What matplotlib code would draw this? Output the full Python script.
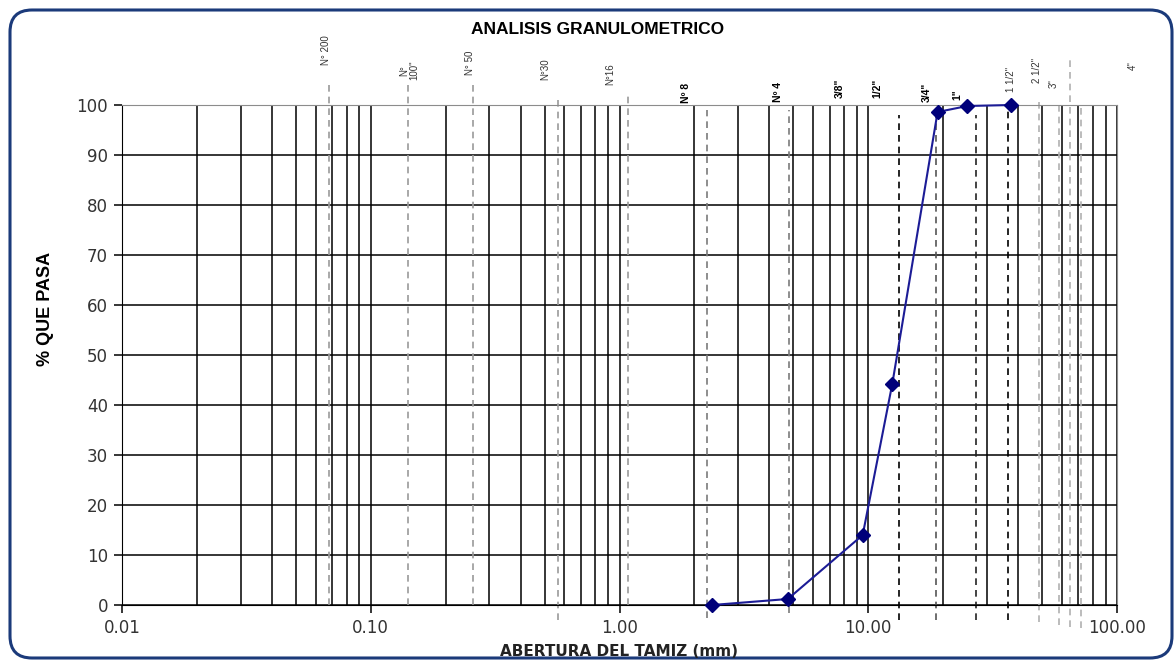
import numpy as np
import matplotlib
matplotlib.use('Agg')
import matplotlib.pyplot as plt
from matplotlib.patches import FancyBboxPatch
from matplotlib.ticker import FixedLocator, NullLocator, FuncFormatter

# GRADATION DATA
abertura_mm = [2.36, 4.75, 9.5, 12.5, 19.0, 25.0, 37.5]
pct_pasa = [0.0, 1.2, 14.0, 44.3, 98.6, 99.8, 100.0]

# SIEVE REFERENCE LINES
tamiz_mm = [0.068, 0.141, 0.257, 0.566, 1.08, 2.24, 4.79, 13.3, 18.7, 27.1, 36.4,
            48.6, 58.5, 64.8, 71.7]
tamiz_lbl = ['N° 200', 'N°\n100"', 'N° 50', 'N°30', 'N°16', 'Nº 8', 'Nº 4', '1/2"',
             '3/4"', '1"', '1 1/2"', '2 1/2"', '3"', '', '']
# sieves named without their own line
extra_mm = [9.5, 100.0]
extra_lbl = ['3/8"', '4"']

# line extents / colours / label placement
line_top = [104.6, 104.6, 104.6, 102, 102, 99, 99, 98, 99, 98, 99, 101.4, 100.6, 109, 100.4]
line_bot = [0, 0, 0, -3, 0, -2.6, -1.6, -3, -3, -3, -3, -3.4, -4, -4.4, -4.6]
line_col = ['#9a9a9a'] * 5 + ['#7a7a7a'] * 2 + ['#000000', '#555555', '#222222', '#000000'] + ['#b0b0b0'] * 4
lbl_dx = [-3, 1, -3, -13, -18, -21, -11, -22, -9, -19, 3, -2, -5, 0, 0]
lbl_y = [108, 105, 106, 105, 104, 100.4, 100.6, 101.4, 100.6, 101, 102.6, 104.4, 103.4, 0, 0]
lbl_bold = [False] * 5 + [True] * 5 + [False] * 5
extra_dx = [-23, 16]
extra_y = [101.4, 107]
extra_bold = [True, False]

sans = ['Liberation Sans', 'DejaVu Sans']

fig = plt.figure(figsize=(11.75, 6.61), dpi=100)
ax = fig.add_axes([122 / 1175, 1 - 605 / 661, 995 / 1175, 500 / 661])

# rounded frame around the whole chart
frame = FancyBboxPatch((0.10, 0.03), 11.62, 6.48, boxstyle='round,pad=0,rounding_size=0.22',
                       transform=fig.dpi_scale_trans, facecolor='none',
                       edgecolor='#1b3a7a', linewidth=2.2, zorder=0)
fig.patches.append(frame)

ax.set_xscale('log')
ax.set_xlim(0.01, 100)
ax.set_ylim(0, 100)

# log grid: every 1..9 of each decade
grid_x = [m * 10.0 ** e for e in range(-2, 2) for m in range(1, 10)] + [100]
for gx in grid_x:
    ax.axvline(gx, color='black', lw=1.1, zorder=1)
for gy in range(0, 100, 10):
    ax.axhline(gy, color='black', lw=1.1, zorder=1)
ax.axhline(100, color='#8c8c8c', lw=1.1, zorder=1)

# sieve dashed lines
for s, top, bot, c in zip(tamiz_mm, line_top, line_bot, line_col):
    ax.plot([s, s], [bot, top], color=c, lw=1.2, ls=(0, (4, 3)), clip_on=False, zorder=2)

# sieve labels
def sieve_label(txt, x, y, dx, bold):
    if not txt:
        return
    kw = dict(boxstyle='square,pad=0.15', fc='white', ec='none') if bold else None
    ax.annotate(txt, xy=(x, y), xytext=(dx, 0), textcoords='offset pixels',
                rotation=90, ha='center', va='bottom', family=sans,
                fontsize=7.5 if bold else 7, fontweight='bold' if bold else 'normal',
                color='black' if bold else '#333333', linespacing=1.0,
                annotation_clip=False, bbox=kw, zorder=3)

for t, s, y, dx, b in zip(tamiz_lbl, tamiz_mm, lbl_y, lbl_dx, lbl_bold):
    sieve_label(t, s, y, dx, b)
for t, s, y, dx, b in zip(extra_lbl, extra_mm, extra_y, extra_dx, extra_bold):
    sieve_label(t, s, y, dx, b)

# gradation curve
ax.plot(abertura_mm, pct_pasa, color='#1c1c96', lw=1.5, marker='D', markersize=7,
        markerfacecolor='#00007a', markeredgecolor='#00007a', clip_on=False, zorder=5)

# axes styling
for side in ['top', 'right']:
    ax.spines[side].set_color('#8c8c8c')
ax.spines['left'].set_color('black')
ax.spines['bottom'].set_color('black')
ax.xaxis.set_major_locator(FixedLocator([0.01, 0.1, 1, 10, 100]))
ax.xaxis.set_minor_locator(NullLocator())
ax.xaxis.set_major_formatter(FuncFormatter(lambda v, p: f'{v:.2f}'))
ax.set_yticks(range(0, 101, 10))
ax.tick_params(axis='both', direction='out', length=6, width=1.1, labelsize=12,
               labelcolor='#333333', pad=4)

fig.text(598 / 1175, 1 - 29 / 661, 'ANALISIS GRANULOMETRICO', ha='center', va='center',
         family=sans, fontsize=12.5, fontweight='bold')
fig.text(619 / 1175, 1 - 652 / 661, 'ABERTURA DEL TAMIZ (mm)', ha='center', va='center',
         fontsize=11, fontweight='bold', color='#222222')
fig.text(45 / 1175, 1 - 309 / 661, '% QUE PASA', ha='center', va='center', rotation=90,
         family=sans, fontsize=13, fontweight='bold')

fig.savefig('out.png', dpi=100)
